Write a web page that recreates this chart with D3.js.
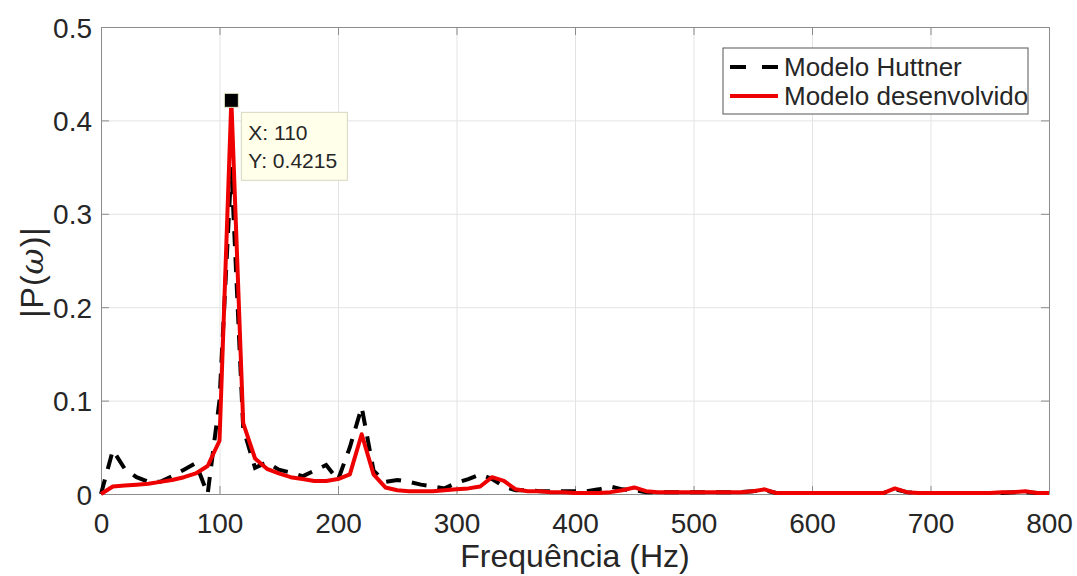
<!DOCTYPE html>
<html>
<head>
<meta charset="utf-8">
<script src="https://cdn.jsdelivr.net/npm/d3@7"></script>
<style>
  body { margin: 0; background: #fff; }
  text { font-family: Arial, "Liberation Sans", Helvetica, sans-serif; fill: #262626; }
  .grid line { stroke: #e3e3e3; stroke-width: 1; }
  .grid path { stroke: none; }
  .axis path, .axis line { stroke: #8c8c8c; stroke-width: 1; }
</style>
</head>
<body>
<script>
// frequency samples (Hz)
var freq = d3.range(0, 810, 10);

// Modelo Huttner (black dashed)
var huttner = [
  0, 0.047, 0.027, 0.018, 0.013, 0.013, 0.019, 0.026, 0.033, 0.0,
  0.100, 0.350, 0.070, 0.028, 0.034, 0.026, 0.023, 0.019, 0.025, 0.031,
  0.015, 0.050, 0.093, 0.025, 0.013, 0.015, 0.013, 0.010, 0.008, 0.006,
  0.012, 0.016, 0.021, 0.016, 0.008, 0.004, 0.004, 0.003, 0.003, 0.003,
  0.003, 0.003, 0.005, 0.008, 0.005, 0.004, 0.002, 0.002, 0.002, 0.002,
  0.002, 0.002, 0.002, 0.002, 0.002, 0.003, 0.004, 0.001, 0.001, 0.001,
  0.001, 0.001, 0.001, 0.001, 0.001, 0.001, 0.001, 0.005, 0.002, 0.001,
  0.001, 0.001, 0.001, 0.001, 0.001, 0.001, 0.001, 0.002, 0.002, 0.001,
  0.001
];

// Modelo desenvolvido (red)
var desenvolvido = [
  0, 0.008, 0.009, 0.010, 0.011, 0.013, 0.015, 0.018, 0.022, 0.030,
  0.057, 0.4215, 0.076, 0.038, 0.027, 0.022, 0.018, 0.016, 0.014, 0.014,
  0.016, 0.021, 0.064, 0.021, 0.007, 0.004, 0.003, 0.003, 0.003, 0.004,
  0.005, 0.006, 0.008, 0.018, 0.014, 0.005, 0.003, 0.003, 0.002, 0.002,
  0.001, 0.001, 0.001, 0.002, 0.004, 0.007, 0.003, 0.002, 0.002, 0.002,
  0.002, 0.002, 0.002, 0.002, 0.002, 0.003, 0.005, 0.001, 0.001, 0.001,
  0.001, 0.001, 0.001, 0.001, 0.001, 0.001, 0.001, 0.006, 0.002, 0.001,
  0.001, 0.001, 0.001, 0.001, 0.001, 0.001, 0.002, 0.002, 0.003, 0.001,
  0.001
];

var xTicks = [0, 100, 200, 300, 400, 500, 600, 700, 800];
var yTicks = [0, 0.1, 0.2, 0.3, 0.4, 0.5];
var seriesNames = ["Modelo Huttner", "Modelo desenvolvido"];
var tipX = 110, tipY = 0.4215;

var w = 1077, h = 576;
var padL = 101, padR = 1049, padT = 27, padB = 494;

var svg = d3.select("body").append("svg")
    .attr("width", w)
    .attr("height", h);

var xScale = d3.scaleLinear().domain([0, 800]).range([padL, padR]);
var yScale = d3.scaleLinear().domain([0, 0.5]).range([padB, padT]);

// grid
svg.append("g")
    .attr("class", "grid")
    .attr("transform", "translate(0," + padB + ")")
    .call(d3.axisBottom(xScale).tickValues(xTicks).tickSize(-(padB - padT)).tickFormat(""));
svg.append("g")
    .attr("class", "grid")
    .attr("transform", "translate(" + padL + ",0)")
    .call(d3.axisLeft(yScale).tickValues(yTicks).tickSize(-(padR - padL)).tickFormat(""));

// axes with inward ticks
var xAxis = d3.axisBottom(xScale).tickValues(xTicks).tickSizeInner(-8).tickSizeOuter(0).tickPadding(19)
    .tickFormat(d3.format("d"));
var gx = svg.append("g")
    .attr("class", "axis")
    .attr("transform", "translate(0," + padB + ")")
    .call(xAxis);
gx.selectAll("text").attr("font-size", 28).attr("dy", "0.71em");

var yAxis = d3.axisLeft(yScale).tickValues(yTicks).tickSizeInner(-8).tickSizeOuter(0).tickPadding(9)
    .tickFormat(function (d) { return d === 0 ? "0" : d3.format(".1f")(d); });
var gy = svg.append("g")
    .attr("class", "axis")
    .attr("transform", "translate(" + padL + ",0)")
    .call(yAxis);
gy.selectAll("text").attr("font-size", 28).attr("dy", "0.36em");

// mirrored axes on top/right (MATLAB box)
svg.append("g")
    .attr("class", "axis")
    .attr("transform", "translate(0," + padT + ")")
    .call(d3.axisTop(xScale).tickValues(xTicks).tickSizeInner(-8).tickSizeOuter(0).tickFormat(""));
svg.append("g")
    .attr("class", "axis")
    .attr("transform", "translate(" + padR + ",0)")
    .call(d3.axisRight(yScale).tickValues(yTicks).tickSizeInner(-8).tickSizeOuter(0).tickFormat(""));

// lines
var line = function (vals) {
    return d3.line()
        .x(function (d, i) { return xScale(freq[i]); })
        .y(function (d) { return yScale(d); })(vals);
};

svg.append("path")
    .attr("d", line(huttner))
    .attr("fill", "none")
    .attr("stroke", "#000")
    .attr("stroke-width", 4)
    .attr("stroke-dasharray", "15,11");

svg.append("path")
    .attr("d", line(desenvolvido))
    .attr("fill", "none")
    .attr("stroke", "#ee0000")
    .attr("stroke-width", 4)
    .attr("stroke-linejoin", "round");

// axis labels
svg.append("text")
    .attr("x", (padL + padR) / 2)
    .attr("y", 567)
    .attr("text-anchor", "middle")
    .attr("font-size", 32)
    .text("Frequência (Hz)");

var yl = svg.append("text")
    .attr("transform", "translate(43,272) rotate(-90)")
    .attr("text-anchor", "middle")
    .attr("font-size", 32)
    .attr("letter-spacing", 1);
yl.append("tspan").text("|P(");
yl.append("tspan").attr("font-style", "italic").attr("font-family", "'DejaVu Serif', serif").text("ω");
yl.append("tspan").text(")|");

// legend
var lg = svg.append("g").attr("transform", "translate(723,48)");
lg.append("rect")
    .attr("width", 305).attr("height", 66)
    .attr("fill", "#fff").attr("stroke", "#555").attr("stroke-width", 1);
var legendStyles = [
    { color: "#000", dash: "16,16" },
    { color: "#ee0000", dash: null }
];
seriesNames.forEach(function (name, i) {
    var yy = 19 + i * 29;
    lg.append("line")
        .attr("x1", 7).attr("x2", 55)
        .attr("y1", yy).attr("y2", yy)
        .attr("stroke", legendStyles[i].color)
        .attr("stroke-width", 4)
        .attr("stroke-dasharray", legendStyles[i].dash);
    lg.append("text")
        .attr("x", 61).attr("y", yy)
        .attr("dy", "0.36em")
        .attr("font-size", 26)
        .text(name);
});

// data tip
var px = xScale(tipX), py = yScale(tipY);
svg.append("rect")
    .attr("x", px - 7).attr("y", py - 7)
    .attr("width", 14).attr("height", 14)
    .attr("fill", "#000").attr("stroke", "#e8e8c8").attr("stroke-width", 1);
var tip = svg.append("g").attr("transform", "translate(" + (px + 10) + "," + (py + 12) + ")");
tip.append("rect")
    .attr("width", 106).attr("height", 68)
    .attr("fill", "#ffffea").attr("stroke", "#d6d6c4").attr("stroke-width", 1);
tip.append("text").attr("x", 7).attr("y", 28).attr("font-size", 21).text("X: " + tipX);
tip.append("text").attr("x", 7).attr("y", 56).attr("font-size", 21).text("Y: " + tipY);
</script>
</body>
</html>
